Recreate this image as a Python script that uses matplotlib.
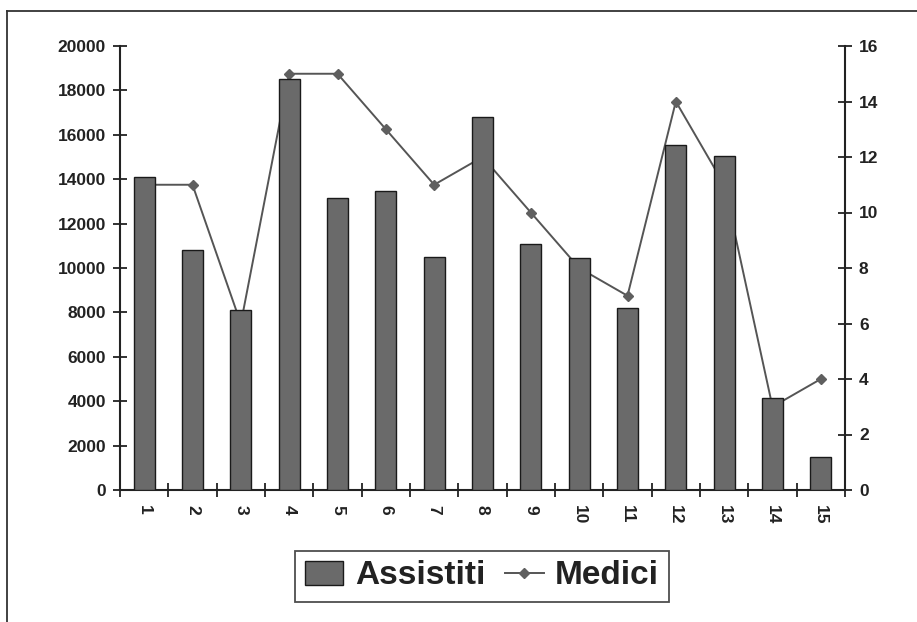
import matplotlib
matplotlib.use("Agg")
import matplotlib.pyplot as plt
from matplotlib.lines import Line2D
from matplotlib.patches import Patch

plt.rcParams['font.family'] = ['Liberation Sans', 'DejaVu Sans']

categories = ["1", "2", "3", "4", "5", "6", "7", "8", "9", "10", "11", "12", "13", "14", "15"]
assistiti = [14100, 10810, 8110, 18500, 13170, 13470, 10510, 16820, 11080, 10450, 8210, 15540, 15050, 4140, 1490]
medici = [11, 11, 6, 15, 15, 13, 11, 12, 10, 8, 7, 14, 11, 3, 4]
left_ticks = [0, 2000, 4000, 6000, 8000, 10000, 12000, 14000, 16000, 18000, 20000]
right_ticks = [0, 2, 4, 6, 8, 10, 12, 14, 16]

W, H = 917, 622
fig = plt.figure(figsize=(W / 100, H / 100), dpi=100)

# outer frame (top and left edges visible)
fig.add_artist(Line2D([7 / W, 1.0], [1 - 11 / H, 1 - 11 / H], color='#333333', lw=1.3))
fig.add_artist(Line2D([7 / W, 7 / W], [0.0, 1 - 11 / H], color='#333333', lw=1.3))

ax = fig.add_axes([120 / W, 1 - 490 / H, (845 - 120) / W, (490 - 46) / H])
ax2 = ax.twinx()

x = list(range(1, len(categories) + 1))
bar_color = '#6a6a6a'
line_color = '#555555'

ax.bar(x, assistiti, width=0.43, color=bar_color, edgecolor='#1a1a1a', linewidth=1.0, zorder=3)
ax2.plot(x, medici, color=line_color, lw=1.4, marker='D', markersize=5,
         markerfacecolor='#5f5f5f', markeredgecolor='#5f5f5f', zorder=2)

# bars above the line
ax.set_zorder(ax2.get_zorder() + 1)
ax.patch.set_visible(False)

ax.set_xlim(0.5, len(categories) + 0.5)
ax.set_ylim(0, 20000)
ax2.set_ylim(0, 16)

ax.set_yticks(left_ticks)
ax.set_yticklabels([str(v) for v in left_ticks])
ax2.set_yticks(right_ticks)
ax2.set_yticklabels([str(v) for v in right_ticks])

ax.set_xticks(x)
ax.set_xticklabels(categories, rotation=-90)
ax.set_xticks([i + 0.5 for i in range(0, len(categories) + 1)], minor=True)
ax.tick_params(axis='x', which='major', length=0, pad=11)
ax.tick_params(axis='x', which='minor', length=10, width=1.3, direction='inout', color='#222222')

for a in (ax, ax2):
    for s in a.spines.values():
        s.set_visible(False)
ax.spines['left'].set_visible(True)
ax.spines['bottom'].set_visible(True)
ax2.spines['right'].set_visible(True)
for s in (ax.spines['left'], ax.spines['bottom'], ax2.spines['right']):
    s.set_linewidth(1.5)
    s.set_color('#222222')

ax.tick_params(axis='y', length=10, width=1.3, direction='inout', color='#222222', pad=5)
ax2.tick_params(axis='y', length=10, width=1.3, direction='inout', color='#222222', pad=5)

for lab in ax.get_yticklabels() + ax2.get_yticklabels() + ax.get_xticklabels():
    lab.set_fontsize(12.5)
    lab.set_fontweight('bold')
    lab.set_color('#222222')

handles = [Patch(facecolor=bar_color, edgecolor='#1a1a1a', linewidth=1.0),
           Line2D([], [], color=line_color, lw=1.4, marker='D', markersize=5,
                  markerfacecolor='#5f5f5f', markeredgecolor='#5f5f5f')]
leg = fig.legend(handles, ['Assistiti', 'Medici'], loc='center',
                 bbox_to_anchor=(482 / W, 1 - 576 / H), ncol=2, frameon=True,
                 fancybox=False, edgecolor='#222222', handlelength=1.15, handleheight=0.75,
                 handletextpad=0.35, columnspacing=0.6, borderpad=0.3, borderaxespad=0,
                 prop={'size': 24, 'weight': 'bold'})
leg.get_frame().set_linewidth(1.3)
for t in leg.get_texts():
    t.set_color('#222222')

fig.savefig('out.png', dpi=100)
